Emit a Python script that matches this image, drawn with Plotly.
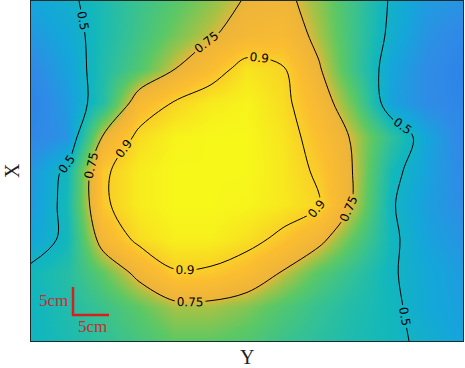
import plotly.graph_objects as go

# grid positions (cm along Y axis horizontally, rows top to bottom)
xs = [0, 5, 10, 15, 20, 25, 30, 35, 40, 45, 50, 55, 60]
ys = [0, 1, 2, 3, 4, 5, 6, 7, 8, 9, 10]

z = [
    [0.45, 0.48, 0.54, 0.60, 0.65, 0.70, 0.76, 0.78, 0.70, 0.60, 0.49, 0.42, 0.40],
    [0.41, 0.46, 0.54, 0.61, 0.68, 0.74, 0.80, 0.82, 0.72, 0.60, 0.48, 0.40, 0.36],
    [0.37, 0.44, 0.55, 0.64, 0.75, 0.84, 0.95, 0.91, 0.76, 0.60, 0.45, 0.38, 0.34],
    [0.34, 0.42, 0.56, 0.82, 0.91, 0.97, 0.99, 0.93, 0.81, 0.66, 0.44, 0.38, 0.35],
    [0.36, 0.40, 0.76, 0.93, 0.99, 1.00, 1.00, 0.95, 0.85, 0.73, 0.58, 0.45, 0.36],
    [0.41, 0.52, 0.88, 0.97, 1.00, 1.00, 1.00, 0.96, 0.88, 0.74, 0.53, 0.44, 0.37],
    [0.42, 0.53, 0.88, 0.97, 1.00, 1.00, 0.99, 0.96, 0.91, 0.73, 0.51, 0.43, 0.38],
    [0.45, 0.52, 0.80, 0.93, 0.98, 0.98, 0.94, 0.87, 0.78, 0.65, 0.52, 0.44, 0.40],
    [0.52, 0.56, 0.66, 0.78, 0.89, 0.88, 0.83, 0.74, 0.65, 0.58, 0.51, 0.46, 0.42],
    [0.51, 0.55, 0.60, 0.66, 0.72, 0.72, 0.69, 0.64, 0.59, 0.55, 0.52, 0.46, 0.43],
    [0.51, 0.54, 0.58, 0.62, 0.66, 0.66, 0.64, 0.60, 0.57, 0.54, 0.52, 0.48, 0.44],
]

levels = [0.5, 0.75, 0.9]
level_formats = [".1f", ".2f", ".1f"]
# padding levels (outside data range) only used to make plotly place more labels per line
label_density = [45, 45, 55]

zmin, zmax = 0.3, 1.0
stops = [
    (0.30, "#2A7CEA"), (0.38, "#2F8CE6"), (0.45, "#14A6DA"), (0.52, "#12B7BC"),
    (0.58, "#30C09A"), (0.66, "#5CC864"), (0.72, "#A6C244"), (0.76, "#EEB43A"),
    (0.85, "#FBBD30"), (0.93, "#F8DC22"), (1.00, "#F7F71A"),
]
colorscale = [[(v - zmin) / (zmax - zmin), c] for v, c in stops]

fig = go.Figure()
fig.add_trace(go.Heatmap(x=xs, y=ys, z=z, zmin=zmin, zmax=zmax, colorscale=colorscale,
                         zsmooth="best", showscale=False, hoverinfo="skip"))
for lev, fmt, n in zip(levels, level_formats, label_density):
    fig.add_trace(go.Contour(
        x=xs, y=ys, z=z, showscale=False, hoverinfo="skip", autocontour=False,
        contours=dict(start=lev, end=lev + (n - 1) * 1.0, size=1.0, coloring="none",
                      showlabels=True, labelformat=fmt,
                      labelfont=dict(family="DejaVu Sans", size=12, color="black")),
        line=dict(color="black", width=1, smoothing=1.0),
    ))

axis_common = dict(showticklabels=False, ticks="", showgrid=False, zeroline=False,
                   showline=True, mirror=True, linecolor="#1c2a2a", linewidth=1)
fig.update_layout(
    width=465, height=368,
    margin=dict(l=31, r=2, t=1, b=27, pad=0),
    paper_bgcolor="white", plot_bgcolor="white",
    xaxis=dict(range=[0, 60], **axis_common),
    yaxis=dict(range=[10, 0], **axis_common),
    showlegend=False,
)

# axis labels
fig.add_annotation(text="Y", xref="paper", yref="paper", x=0.5, y=0, yshift=-16,
                   showarrow=False, xanchor="center", yanchor="middle",
                   font=dict(family="Liberation Serif", size=20, color="#222"))
fig.add_annotation(text="X", xref="paper", yref="paper", x=0, y=0.5, xshift=-19,
                   showarrow=False, textangle=-90, xanchor="center", yanchor="middle",
                   font=dict(family="Liberation Serif", size=20, color="#222"))

# scale bar (paper coords)
def px(xp):
    return (xp - 31) / 432
def py(yp):
    return 1 - (yp - 1) / 340

red = "#D62020"
fig.add_shape(type="line", xref="paper", yref="paper", x0=px(73), x1=px(73), y0=py(287), y1=py(316),
              line=dict(color=red, width=2.5))
fig.add_shape(type="line", xref="paper", yref="paper", x0=px(72), x1=px(109), y0=py(315), y1=py(315),
              line=dict(color=red, width=2.5))
fig.add_annotation(text="5cm", xref="paper", yref="paper", x=px(53), y=py(300), showarrow=False,
                   xanchor="center", yanchor="middle",
                   font=dict(family="Liberation Serif", size=17, color="#C03030"))
fig.add_annotation(text="5cm", xref="paper", yref="paper", x=px(92), y=py(326), showarrow=False,
                   xanchor="center", yanchor="middle",
                   font=dict(family="Liberation Serif", size=17, color="#C03030"))

fig.write_html("out.html", config={"displayModeBar": False},
               post_script="document.body.style.margin='0';document.body.style.overflow='hidden';")
